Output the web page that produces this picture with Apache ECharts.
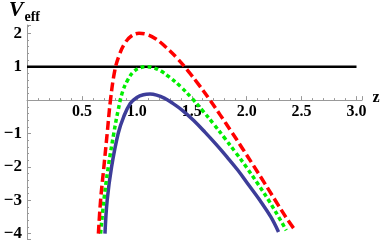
<!DOCTYPE html>
<html>
<head>
<meta charset="utf-8">
<script src="https://cdn.jsdelivr.net/npm/echarts@6/dist/echarts.min.js"></script>
<style>html,body{margin:0;padding:0;background:#fff;}#c{width:382px;height:242px;}</style>
</head>
<body>
<div id="c"></div>
<script>
// z values and V_eff values
const blueZ = [0.71,0.73,0.77,0.83,0.88,0.94,1.00,1.06,1.12,1.18,1.25,1.32,1.42,1.52,1.62,1.72,1.82,1.92,2.02,2.12,2.22,2.29];
const blueV = [-4.0,-3.0,-2.0,-1.0,-0.5,-0.1,0.08,0.16,0.18,0.15,0.06,-0.08,-0.32,-0.62,-0.96,-1.32,-1.70,-2.10,-2.55,-3.00,-3.50,-3.95];
const greenZ = [0.67,0.70,0.74,0.79,0.83,0.87,0.92,0.97,1.03,1.09,1.15,1.22,1.30,1.40,1.50,1.60,1.70,1.80,1.90,2.00,2.10,2.20,2.30,2.36];
const greenV = [-4.0,-3.0,-2.0,-1.0,-0.3,0.25,0.62,0.85,0.97,1.0,0.97,0.87,0.68,0.40,0.06,-0.32,-0.72,-1.14,-1.57,-2.02,-2.50,-3.00,-3.55,-3.90];
const redZ = [0.65,0.67,0.70,0.73,0.76,0.80,0.84,0.89,0.95,1.02,1.09,1.17,1.26,1.36,1.46,1.56,1.66,1.76,1.86,1.96,2.06,2.16,2.26,2.36,2.43];
const redV = [-4.0,-3.0,-2.0,-1.0,0.0,0.9,1.35,1.70,1.92,2.0,1.97,1.84,1.60,1.28,0.90,0.48,0.03,-0.45,-0.94,-1.44,-1.95,-2.47,-3.00,-3.52,-3.85];
const levelZ = [0, 3.0];
const levelV = [1, 1];
const xTicks = [0.5, 1.0, 1.5, 2.0, 2.5, 3.0];
const yTicks = [-4, -3, -2, -1, 1, 2];
const yMin = -4.16, yMax = 2.25;

const zip = (a, b) => a.map((v, i) => [v, b[i]]);
const font = '"Liberation Serif", "DejaVu Serif", serif';

const gridTop = 25, gridBottom = 3, H = 242;
const plotH = H - gridTop - gridBottom;
const zeroOffset = -(plotH * (0 - yMin) / (yMax - yMin));

const chart = echarts.init(document.getElementById('c'), null, {renderer: 'canvas'});
chart.setOption({
  animation: false,
  grid: {left: 27, right: 20, top: gridTop, bottom: gridBottom, containLabel: false, outerBoundsMode: 'none'},
  xAxis: {
    type: 'value', min: 0, max: 3.05, interval: 0.5, position: 'bottom', offset: zeroOffset,
    splitLine: {show: false},
    axisLine: {onZero: false, lineStyle: {color: '#999', width: 1}},
    axisTick: {inside: true, length: 4, lineStyle: {color: '#999'}},
    minorTick: {show: true, splitNumber: 5, length: 2, lineStyle: {color: '#999'}},
    axisLabel: {
      margin: 4, color: '#000', fontFamily: font, fontWeight: 'bold', fontSize: 16,
      formatter: v => xTicks.some(t => Math.abs(t - v) < 1e-6) ? v.toFixed(1) : ''
    },
    name: 'z', nameLocation: 'end', nameGap: 8,
    nameTextStyle: {color: '#000', fontFamily: font, fontWeight: 'bold', fontSize: 16, verticalAlign: 'bottom', padding: [0,0,-6,0]}
  },
  yAxis: {
    type: 'value', min: yMin, max: yMax, splitNumber: 6,
    splitLine: {show: false},
    axisLine: {onZero: false, lineStyle: {color: '#999', width: 1}},
    axisTick: {inside: true, length: 4, lineStyle: {color: '#999'}},
    minorTick: {show: true, splitNumber: 5, length: 2, lineStyle: {color: '#999'}},
    axisLabel: {
      margin: 5, color: '#000', fontFamily: font, fontWeight: 'bold', fontSize: 17,
      formatter: v => yTicks.some(t => Math.abs(t - v) < 1e-6) ? String(v).replace('-', '\u2212') : ''
    },
    name: '{v|V}{s|eff}', nameLocation: 'end', nameGap: 4,
    nameTextStyle: {
      align: 'right', padding: [0, -13, 0, 0],
      rich: {
        v: {fontFamily: font, fontWeight: 'bold', fontStyle: 'italic', fontSize: 22, color: '#000', verticalAlign: 'bottom', padding: [0, 1, 0, 0]},
        s: {fontFamily: font, fontWeight: 'bold', fontSize: 14, color: '#000', verticalAlign: 'bottom', padding: [0,0,-3,0]}
      }
    }
  },
  series: [
    {type: 'line', data: zip(levelZ, levelV), symbol: 'none', lineStyle: {color: '#000', width: 2.5}, z: 1},
    {type: 'line', data: zip(blueZ, blueV), symbol: 'none', smooth: 0.4, lineStyle: {color: '#3d3d99', width: 3.5}, z: 2},
    {type: 'line', data: zip(greenZ, greenV), symbol: 'none', smooth: 0.4, lineStyle: {color: '#00ee00', width: 3.5, type: [4, 3]}, z: 3},
    {type: 'line', data: zip(redZ, redV), symbol: 'none', smooth: 0.4, lineStyle: {color: '#ff0000', width: 3.5, type: [9, 4]}, z: 4}
  ]
});
</script>
</body>
</html>
